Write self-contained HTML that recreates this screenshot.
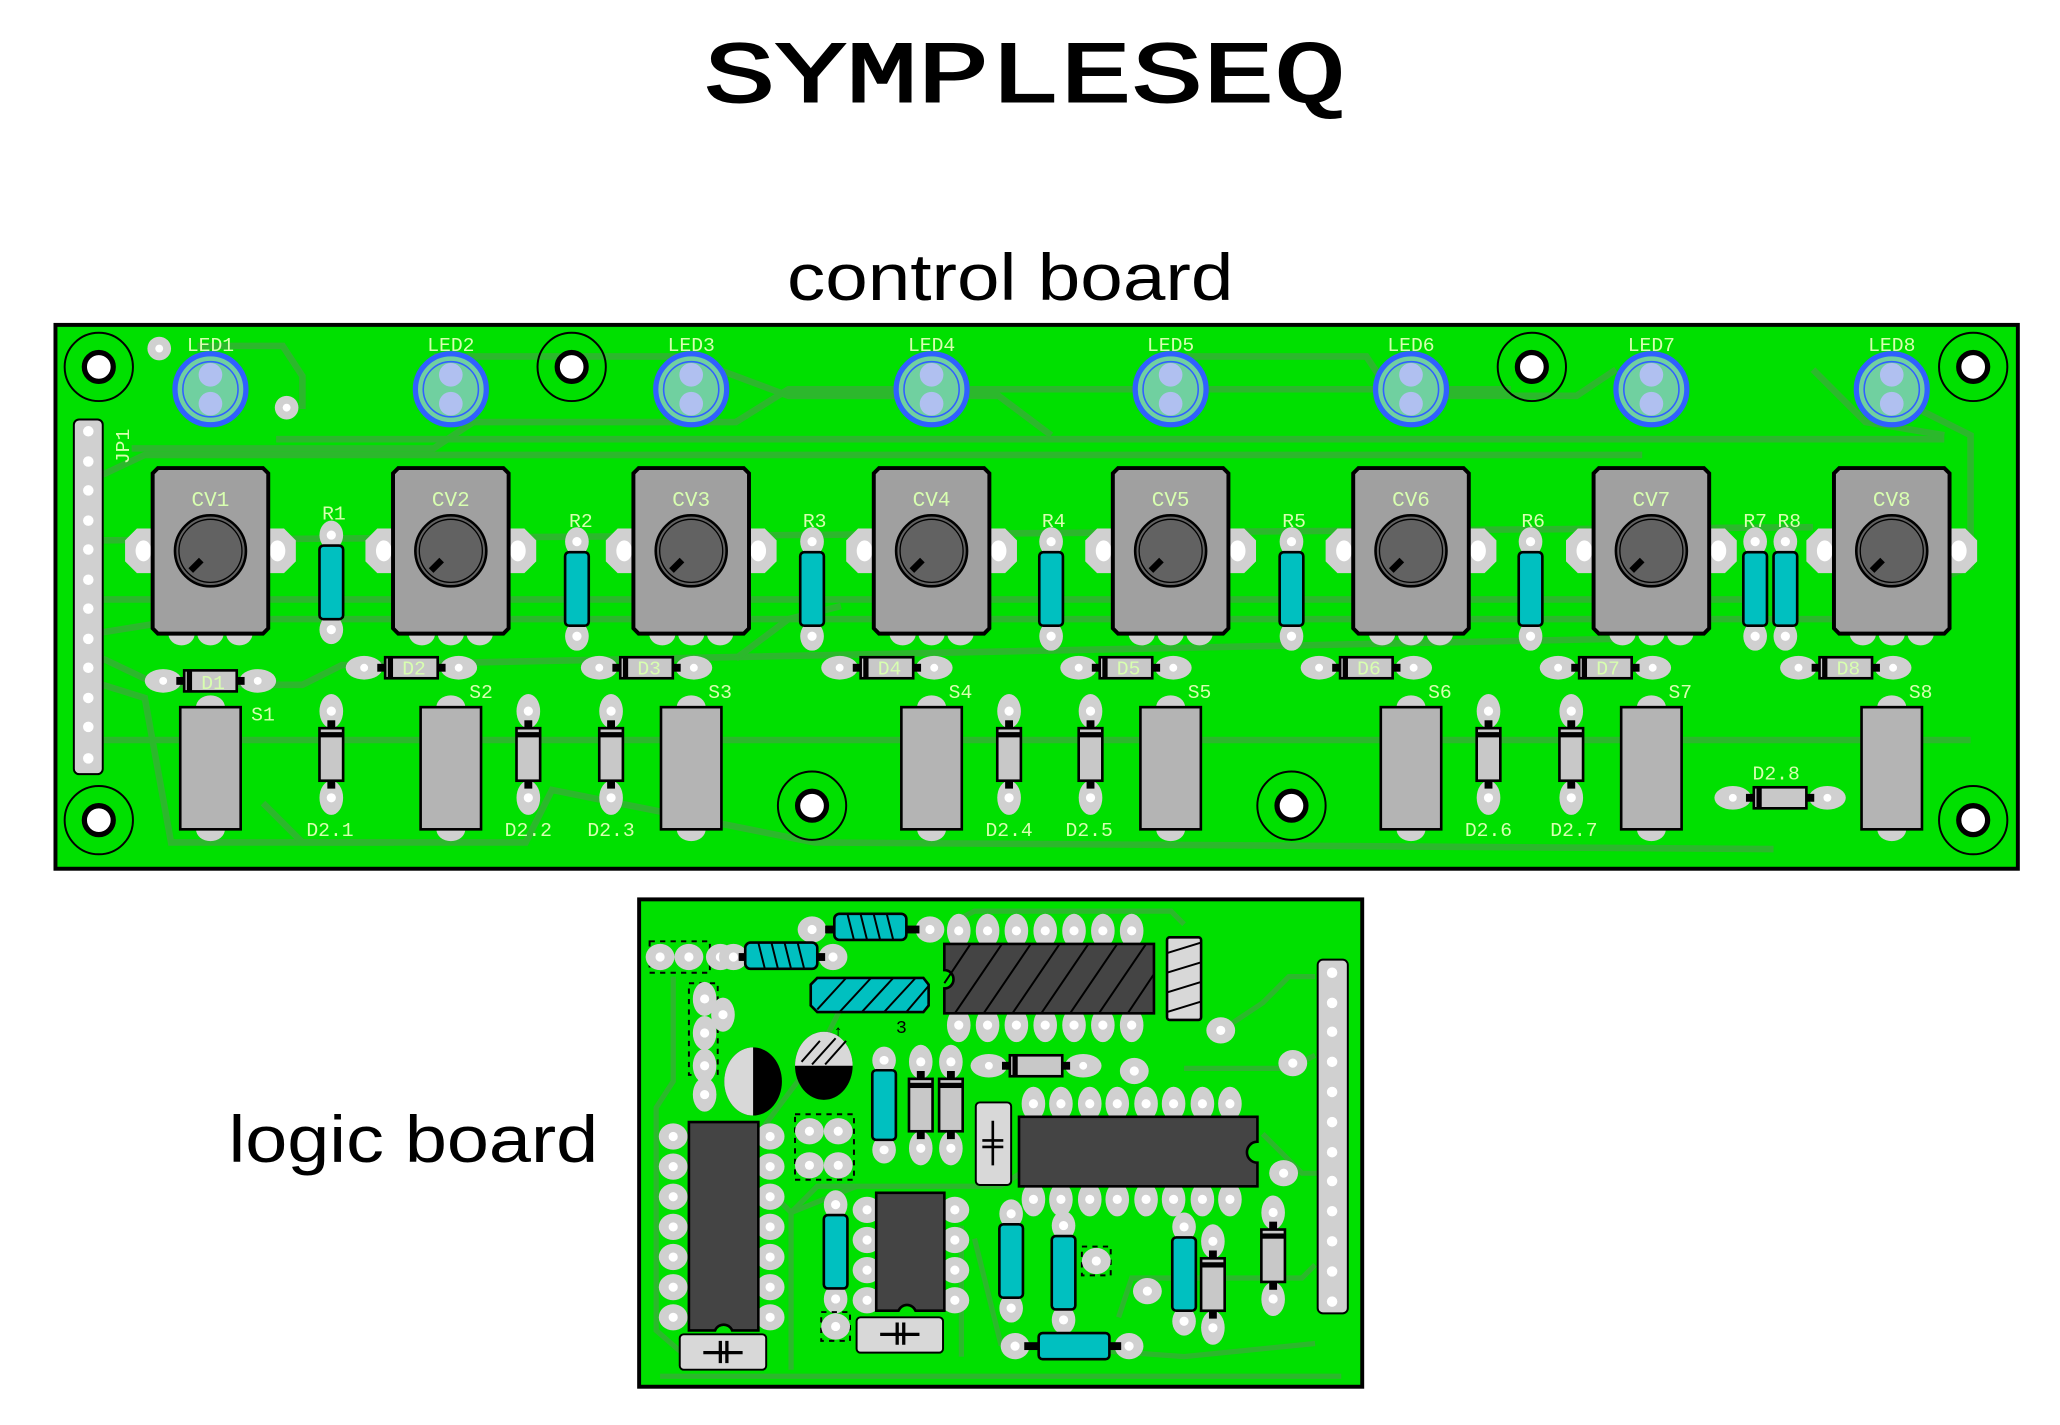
<!DOCTYPE html>
<html><head><meta charset="utf-8"><style>
html,body{margin:0;padding:0;background:#fff;width:2060px;height:1425px;overflow:hidden}
svg{display:block}
.lb{font-family:"Liberation Mono",monospace;font-size:15px;fill:#d8ffb0}
</style></head><body>
<svg width="2060" height="1425" viewBox="0 0 1560 1079" preserveAspectRatio="none" xmlns="http://www.w3.org/2000/svg">
<defs>
<g id="pot">
 <g fill="#d0d0d0"><polygon points="-65,-8 -56,-17 -40,-17 -40,17 -56,17 -65,8"/><polygon points="65,-8 56,-17 40,-17 40,17 56,17 65,8"/>
 <ellipse cx="-22" cy="63" rx="10" ry="9"/><ellipse cx="0" cy="63" rx="10" ry="9"/><ellipse cx="22" cy="63" rx="10" ry="9"/></g>
 <ellipse cx="-51" cy="0" rx="6" ry="8" fill="#fff"/><ellipse cx="51" cy="0" rx="6" ry="8" fill="#fff"/>
 <path d="M-40,-63 H40 L44,-59 V59 L40,63 H-40 L-44,59 V-59Z" fill="#a0a0a0" stroke="#000" stroke-width="3"/>
 <circle r="27" fill="#626262" stroke="#000" stroke-width="2"/><circle r="24" fill="none" stroke="#000" stroke-width="1"/>
 <line x1="-7" y1="7" x2="-15" y2="15" stroke="#000" stroke-width="5"/>
</g>
<g id="led">
 <circle r="27" fill="#70d0a0" stroke="#3060ff" stroke-width="4"/><circle r="21" fill="none" stroke="#3060ff" stroke-width="1.2"/>
 <circle cy="-11" r="9" fill="#b0c0f0"/><circle cy="11" r="9" fill="#b0c0f0"/>
</g>
<g id="sw">
 <ellipse cx="0" cy="-46" rx="11" ry="9" fill="#d0d0d0"/><ellipse cx="0" cy="47" rx="11" ry="9" fill="#d0d0d0"/>
 <rect x="-23" y="-46" width="46" height="93" fill="#b4b4b4" stroke="#000" stroke-width="2"/>
</g>
<g id="res">
 <ellipse cx="0" cy="-36" rx="9" ry="11" fill="#d0d0d0"/><ellipse cx="0" cy="36" rx="9" ry="11" fill="#d0d0d0"/>
 <circle cy="-36" r="3.5" fill="#fff"/><circle cy="36" r="3.5" fill="#fff"/>
 <rect x="-9" y="-28" width="18" height="56" rx="3" fill="#00c0c0" stroke="#000" stroke-width="2"/>
</g>
<g id="dh">
 <ellipse cx="-36" cy="0" rx="14" ry="9" fill="#d0d0d0"/><ellipse cx="36" cy="0" rx="14" ry="9" fill="#d0d0d0"/>
 <circle cx="-36" r="3" fill="#fff"/><circle cx="36" r="3" fill="#fff"/>
 <rect x="-26" y="-3" width="52" height="6" fill="#000"/>
 <rect x="-20" y="-8" width="40" height="16" fill="#c8c8c8" stroke="#000" stroke-width="2"/><rect x="-18" y="-8" width="4" height="16" fill="#000"/>
</g>
<g id="dv">
 <ellipse cx="0" cy="-33" rx="9" ry="13" fill="#d0d0d0"/><ellipse cx="0" cy="33" rx="9" ry="13" fill="#d0d0d0"/>
 <circle cy="-33" r="3.5" fill="#fff"/><circle cy="33" r="3.5" fill="#fff"/>
 <rect x="-3" y="-26" width="6" height="52" fill="#000"/>
 <rect x="-9" y="-20" width="18" height="40" fill="#c8c8c8" stroke="#000" stroke-width="2"/><rect x="-9" y="-17" width="18" height="4" fill="#000"/>
</g>
<g id="hole"><circle r="26" fill="none" stroke="#000" stroke-width="1.5"/><circle r="11" fill="#fff" stroke="#000" stroke-width="4"/></g>
<g id="pad"><ellipse rx="11" ry="10" fill="#d0d0d0"/><circle r="3.5" fill="#fff"/></g>
<g id="padv"><ellipse rx="9" ry="13" fill="#d0d0d0"/><circle r="3.5" fill="#fff"/></g>
</defs>

<text x="776" y="77" text-anchor="middle" font-family="Liberation Mono,monospace" font-size="66" stroke="#000" stroke-width="1.5" textLength="486" lengthAdjust="spacingAndGlyphs">SYMPLESEQ</text>
<text x="765" y="227" text-anchor="middle" font-family="Liberation Sans,sans-serif" font-size="50" textLength="338" lengthAdjust="spacingAndGlyphs">control board</text>
<text x="173" y="880" font-family="Liberation Sans,sans-serif" font-size="50" textLength="280" lengthAdjust="spacingAndGlyphs">logic board</text>

<g transform="translate(42,246) scale(0.9947) translate(-42,-246)">
<!-- control board -->
<rect x="42" y="246" width="1494" height="414" fill="#00e000" stroke="#000" stroke-width="3"/>
<g fill="none" stroke="#2cb82c" stroke-width="5">
 <polyline points="78,562 1500,562"/>
 <polyline points="100,340 330,340 360,320 560,320 600,295 1150,295"/>
 <polyline points="210,333 1480,333"/>
 <polyline points="78,360 110,345 1250,345"/>
 <polyline points="78,410 1380,400"/>
 <polyline points="78,455 1330,455"/>
 <polyline points="78,480 140,470 1400,470 1500,430 1500,330 1440,300"/>
 <polyline points="78,500 120,520 230,520 260,505 1230,485"/>
 <polyline points="78,520 110,530 130,640 400,640 420,600 620,640 1350,645"/>
 <polyline points="150,262 215,262 230,285 230,310"/>
 <polyline points="330,270 520,270 600,300 760,300 800,330"/>
 <polyline points="900,270 1040,270 1060,300 1200,300 1230,280"/>
 <polyline points="1380,280 1420,320 1480,330"/>
 <polyline points="200,610 230,640 300,640"/>
 <polyline points="560,500 600,470 640,460"/>
</g>
<use href="#hole" x="75" y="278"/><use href="#hole" x="75" y="623"/><use href="#hole" x="435" y="278"/>
<use href="#hole" x="618" y="612"/><use href="#hole" x="983" y="612"/><use href="#hole" x="1166" y="278"/>
<use href="#hole" x="1502" y="278"/><use href="#hole" x="1502" y="623"/>
<circle cx="121" cy="264" r="9" fill="#d0d0d0"/><circle cx="121" cy="264" r="3" fill="#fff"/>
<circle cx="218" cy="309" r="9" fill="#d0d0d0"/><circle cx="218" cy="309" r="3" fill="#fff"/>

<!-- JP1 -->
<rect x="56" y="318" width="22" height="270" rx="4" fill="#d0d0d0" stroke="#000" stroke-width="1.5"/>
<g fill="#fff">
<circle cx="67" cy="327" r="4"/><circle cx="67" cy="350" r="4"/><circle cx="67" cy="372" r="4"/><circle cx="67" cy="395" r="4"/><circle cx="67" cy="417" r="4"/><circle cx="67" cy="440" r="4"/><circle cx="67" cy="462" r="4"/><circle cx="67" cy="485" r="4"/><circle cx="67" cy="507" r="4"/><circle cx="67" cy="530" r="4"/><circle cx="67" cy="552" r="4"/><circle cx="67" cy="576" r="4"/>
</g>
<text class="lb" transform="translate(98,352) rotate(-90)">JP1</text>

<g>
<use href="#led" x="160" y="295"/><use href="#pot" x="160" y="418"/><use href="#sw" x="160" y="583"/>
<use href="#led" x="343" y="295"/><use href="#pot" x="343" y="418"/><use href="#sw" x="343" y="583"/>
<use href="#led" x="526" y="295"/><use href="#pot" x="526" y="418"/><use href="#sw" x="526" y="583"/>
<use href="#led" x="709" y="295"/><use href="#pot" x="709" y="418"/><use href="#sw" x="709" y="583"/>
<use href="#led" x="891" y="295"/><use href="#pot" x="891" y="418"/><use href="#sw" x="891" y="583"/>
<use href="#led" x="1074" y="295"/><use href="#pot" x="1074" y="418"/><use href="#sw" x="1074" y="583"/>
<use href="#led" x="1257" y="295"/><use href="#pot" x="1257" y="418"/><use href="#sw" x="1257" y="583"/>
<use href="#led" x="1440" y="295"/><use href="#pot" x="1440" y="418"/><use href="#sw" x="1440" y="583"/>
</g>
<use href="#res" x="252" y="442"/><use href="#res" x="439" y="447"/><use href="#res" x="618" y="447"/>
<use href="#res" x="800" y="447"/><use href="#res" x="983" y="447"/><use href="#res" x="1165" y="447"/>
<use href="#res" x="1336" y="447"/><use href="#res" x="1359" y="447"/>
<use href="#dh" x="160" y="517"/><use href="#dh" x="313" y="507"/><use href="#dh" x="492" y="507"/><use href="#dh" x="675" y="507"/>
<use href="#dh" x="857" y="507"/><use href="#dh" x="1040" y="507"/><use href="#dh" x="1222" y="507"/><use href="#dh" x="1405" y="507"/>
<use href="#dh" x="1355" y="606"/>
<use href="#dv" x="252" y="573"/><use href="#dv" x="402" y="573"/><use href="#dv" x="465" y="573"/><use href="#dv" x="768" y="573"/>
<use href="#dv" x="830" y="573"/><use href="#dv" x="1133" y="573"/><use href="#dv" x="1196" y="573"/>

<g class="lb" text-anchor="middle">
<text x="160" y="266">LED1</text><text x="343" y="266">LED2</text><text x="526" y="266">LED3</text><text x="709" y="266">LED4</text>
<text x="891" y="266">LED5</text><text x="1074" y="266">LED6</text><text x="1257" y="266">LED7</text><text x="1440" y="266">LED8</text>
<text x="160" y="384" font-size="16">CV1</text><text x="343" y="384" font-size="16">CV2</text><text x="526" y="384" font-size="16">CV3</text><text x="709" y="384" font-size="16">CV4</text>
<text x="891" y="384" font-size="16">CV5</text><text x="1074" y="384" font-size="16">CV6</text><text x="1257" y="384" font-size="16">CV7</text><text x="1440" y="384" font-size="16">CV8</text>
<text x="254" y="394">R1</text><text x="442" y="400">R2</text><text x="620" y="400">R3</text><text x="802" y="400">R4</text>
<text x="985" y="400">R5</text><text x="1167" y="400">R6</text><text x="1336" y="400">R7</text><text x="1362" y="400">R8</text>
<text x="162" y="523">D1</text><text x="315" y="512">D2</text><text x="494" y="512">D3</text><text x="677" y="512">D4</text>
<text x="859" y="512">D5</text><text x="1042" y="512">D6</text><text x="1224" y="512">D7</text><text x="1407" y="512">D8</text>
<text x="200" y="547">S1</text><text x="366" y="530">S2</text><text x="548" y="530">S3</text><text x="731" y="530">S4</text>
<text x="913" y="530">S5</text><text x="1096" y="530">S6</text><text x="1279" y="530">S7</text><text x="1462" y="530">S8</text>
<text x="251" y="635">D2.1</text><text x="402" y="635">D2.2</text><text x="465" y="635">D2.3</text><text x="768" y="635">D2.4</text>
<text x="829" y="635">D2.5</text><text x="1133" y="635">D2.6</text><text x="1198" y="635">D2.7</text><text x="1352" y="592">D2.8</text>
</g>
</g>

<g transform="translate(484,681) scale(0.992) translate(-484,-681)">
<!-- logic board -->
<rect x="484" y="681" width="552" height="372" fill="#00e000" stroke="#000" stroke-width="3"/>
<g fill="none" stroke="#2cb82c" stroke-width="4">
 <polyline points="500,1045 1020,1045"/>
 <polyline points="510,740 510,820 497,840 497,1010 520,1030"/>
 <polyline points="575,860 620,800 640,760 700,760"/>
 <polyline points="600,1040 600,920 620,900 760,900 790,880"/>
 <polyline points="730,1030 730,930"/>
 <polyline points="900,700 890,690 740,690 720,700"/>
 <polyline points="900,810 980,810 1000,800"/>
 <polyline points="930,780 960,760 980,740 1000,740"/>
 <polyline points="850,1000 860,970 990,970 1000,960"/>
 <polyline points="740,940 760,1020 900,1030 1000,1020"/>
 <polyline points="960,860 990,890 1010,890"/>
 <polyline points="580,900 600,920 650,900"/>
</g>
<g>
<rect x="492" y="713" width="46" height="24" fill="none" stroke="#000" stroke-dasharray="4,4" stroke-width="1.5"/>
<use href="#pad" x="500" y="725"/><use href="#pad" x="522" y="725"/><use href="#pad" x="546" y="725"/>
<rect x="522" y="745" width="22" height="70" fill="none" stroke="#000" stroke-dasharray="4,4" stroke-width="1.5"/>
<use href="#padv" x="534" y="757"/><use href="#padv" x="534" y="783"/><use href="#padv" x="548" y="769"/>
<use href="#padv" x="534" y="808"/><use href="#padv" x="534" y="830"/>
<rect x="603" y="845" width="45" height="50" fill="none" stroke="#000" stroke-dasharray="4,4" stroke-width="1.5"/>
<use href="#pad" x="614" y="858"/><use href="#pad" x="636" y="858"/><use href="#pad" x="614" y="884"/><use href="#pad" x="636" y="884"/>
</g>
<g>
<use href="#pad" x="616" y="704"/><use href="#pad" x="706" y="704"/>
<rect x="626" y="701" width="72" height="6" fill="#000"/>
<rect x="633" y="692" width="55" height="20" rx="4" fill="#00c0c0" stroke="#000" stroke-width="2"/>
<path d="M643,692 l5,20 M653,692 l5,20 M663,692 l5,20 M673,692 l5,20" stroke="#000" stroke-width="1.5"/>
<use href="#pad" x="556" y="725"/><use href="#pad" x="632" y="725"/>
<rect x="560" y="722" width="66" height="6" fill="#000"/>
<rect x="565" y="714" width="55" height="20" rx="4" fill="#00c0c0" stroke="#000" stroke-width="2"/>
<path d="M575,714 l5,20 M585,714 l5,20 M595,714 l5,20 M605,714 l5,20" stroke="#000" stroke-width="1.5"/>
<path d="M620,741 H701 L705,746 V762 L701,767 H620 L615,762 V746Z" fill="#00c0c0" stroke="#000" stroke-width="2"/>
<path d="M620,765 l22,-24 M637,767 l24,-26 M654,767 l24,-26 M671,767 l24,-26 M688,767 l17,-20" stroke="#000" stroke-width="1.5"/>
<text x="632" y="786" font-family="Liberation Mono,monospace" font-size="13">↑</text>
<text x="680" y="783" font-family="Liberation Mono,monospace" font-size="14">3</text>
</g>
<g>
<use href="#padv" x="728" y="705"/><use href="#padv" x="750" y="705"/><use href="#padv" x="772" y="705"/><use href="#padv" x="794" y="705"/><use href="#padv" x="816" y="705"/><use href="#padv" x="838" y="705"/><use href="#padv" x="860" y="705"/>
<use href="#padv" x="728" y="777"/><use href="#padv" x="750" y="777"/><use href="#padv" x="772" y="777"/><use href="#padv" x="794" y="777"/><use href="#padv" x="816" y="777"/><use href="#padv" x="838" y="777"/><use href="#padv" x="860" y="777"/>
<path d="M717,715 H877 V768 H717 V749 A7,7 0 0 0 717,735Z" fill="#444" stroke="#000" stroke-width="2"/>
<path d="M717,745 l20,-30 M725,768 l36,-53 M747,768 l36,-53 M769,768 l36,-53 M791,768 l36,-53 M813,768 l36,-53 M835,768 l36,-53 M857,768 l20,-30" stroke="#000" stroke-width="1.5"/>
<rect x="887" y="710" width="26" height="63" rx="2" fill="#d8d8d8" stroke="#000" stroke-width="2"/>
<path d="M887,722 l26,-8 M887,737 l26,-8 M887,752 l26,-8 M887,767 l26,-8" stroke="#000" stroke-width="1.5"/>
</g>
<ellipse cx="571" cy="820" rx="22" ry="26" fill="#000"/><path d="M571,794 A22,26 0 0 0 571,846Z" fill="#d8d8d8"/>
<ellipse cx="625" cy="808" rx="22" ry="26" fill="#000"/><path d="M603,808 A22,26 0 0 1 647,808Z" fill="#d8d8d8"/>
<path d="M608,805 l14,-16 M616,807 l18,-20 M626,807 l16,-18" stroke="#000" stroke-width="1.5"/>
<use href="#dv" x="699" y="838"/><use href="#dv" x="722" y="838"/>
<g transform="translate(671,838) scale(1,0.95)"><use href="#res"/></g>
<rect x="741" y="836" width="27" height="63" rx="3" fill="#d8d8d8" stroke="#000" stroke-width="1.5"/>
<path d="M754,850 V884 M746,865 H762 M746,870 H762" stroke="#000" stroke-width="2"/>
<use href="#dh" x="787" y="808"/>
<use href="#pad" x="928" y="781"/><use href="#pad" x="862" y="812"/><use href="#pad" x="983" y="806"/>
<g>
<use href="#padv" x="785" y="837"/><use href="#padv" x="806" y="837"/><use href="#padv" x="828" y="837"/><use href="#padv" x="849" y="837"/><use href="#padv" x="871" y="837"/><use href="#padv" x="892" y="837"/><use href="#padv" x="914" y="837"/><use href="#padv" x="935" y="837"/>
<use href="#padv" x="785" y="910"/><use href="#padv" x="806" y="910"/><use href="#padv" x="828" y="910"/><use href="#padv" x="849" y="910"/><use href="#padv" x="871" y="910"/><use href="#padv" x="892" y="910"/><use href="#padv" x="914" y="910"/><use href="#padv" x="935" y="910"/>
<path d="M774,847 H956 V866 A8,8 0 0 0 956,882 V900 H774Z" fill="#444" stroke="#000" stroke-width="2"/>
</g>
<use href="#pad" x="976" y="890"/>
<rect x="1002" y="727" width="23" height="270" rx="4" fill="#d0d0d0" stroke="#000" stroke-width="1.5"/>
<g fill="#fff"><circle cx="1013" cy="737" r="4"/><circle cx="1013" cy="760" r="4"/><circle cx="1013" cy="782" r="4"/><circle cx="1013" cy="805" r="4"/><circle cx="1013" cy="828" r="4"/><circle cx="1013" cy="851" r="4"/><circle cx="1013" cy="874" r="4"/><circle cx="1013" cy="896" r="4"/><circle cx="1013" cy="919" r="4"/><circle cx="1013" cy="942" r="4"/><circle cx="1013" cy="965" r="4"/><circle cx="1013" cy="988" r="4"/></g>
<g>
<use href="#pad" x="510" y="862"/><use href="#pad" x="510" y="885"/><use href="#pad" x="510" y="908"/><use href="#pad" x="510" y="931"/><use href="#pad" x="510" y="954"/><use href="#pad" x="510" y="977"/><use href="#pad" x="510" y="1000"/>
<use href="#pad" x="584" y="862"/><use href="#pad" x="584" y="885"/><use href="#pad" x="584" y="908"/><use href="#pad" x="584" y="931"/><use href="#pad" x="584" y="954"/><use href="#pad" x="584" y="977"/><use href="#pad" x="584" y="1000"/>
<path d="M522,851 H575 V1010 H555 A7,7 0 0 0 542,1010 H522Z" fill="#444" stroke="#000" stroke-width="2"/>
<rect x="515" y="1013" width="66" height="27" rx="3" fill="#d8d8d8" stroke="#000" stroke-width="1.5"/>
<path d="M533,1027 H563 M546,1018 V1035 M551,1018 V1035" stroke="#000" stroke-width="2.5"/>
</g>
<g>
<use href="#pad" x="658" y="918"/><use href="#pad" x="658" y="941"/><use href="#pad" x="658" y="964"/><use href="#pad" x="658" y="987"/>
<use href="#pad" x="725" y="918"/><use href="#pad" x="725" y="941"/><use href="#pad" x="725" y="964"/><use href="#pad" x="725" y="987"/>
<path d="M665,905 H717 V995 H695 A7,7 0 0 0 682,995 H665Z" fill="#444" stroke="#000" stroke-width="2"/>
<rect x="650" y="1000" width="66" height="27" rx="3" fill="#d8d8d8" stroke="#000" stroke-width="1.5"/>
<path d="M668,1013 H698 M681,1004 V1021 M686,1004 V1021" stroke="#000" stroke-width="2.5"/>
<use href="#res" x="634" y="950"/>
<rect x="623" y="996" width="22" height="22" fill="none" stroke="#000" stroke-dasharray="4,4" stroke-width="1.5"/>
<use href="#pad" x="634" y="1007"/>
</g>
<use href="#res" x="768" y="957"/><use href="#res" x="808" y="966"/><use href="#res" x="900" y="967"/>
<use href="#dv" x="922" y="975"/><use href="#dv" x="968" y="953"/>
<rect x="822" y="946" width="22" height="22" fill="none" stroke="#000" stroke-dasharray="4,4" stroke-width="1.5"/>
<use href="#pad" x="833" y="957"/><use href="#pad" x="872" y="980"/>
<use href="#pad" x="771" y="1022"/><use href="#pad" x="858" y="1022"/>
<rect x="778" y="1019" width="74" height="6" fill="#000"/>
<rect x="789" y="1012" width="54" height="20" rx="3" fill="#00c0c0" stroke="#000" stroke-width="2"/>
</g>
</svg>
</body></html>
